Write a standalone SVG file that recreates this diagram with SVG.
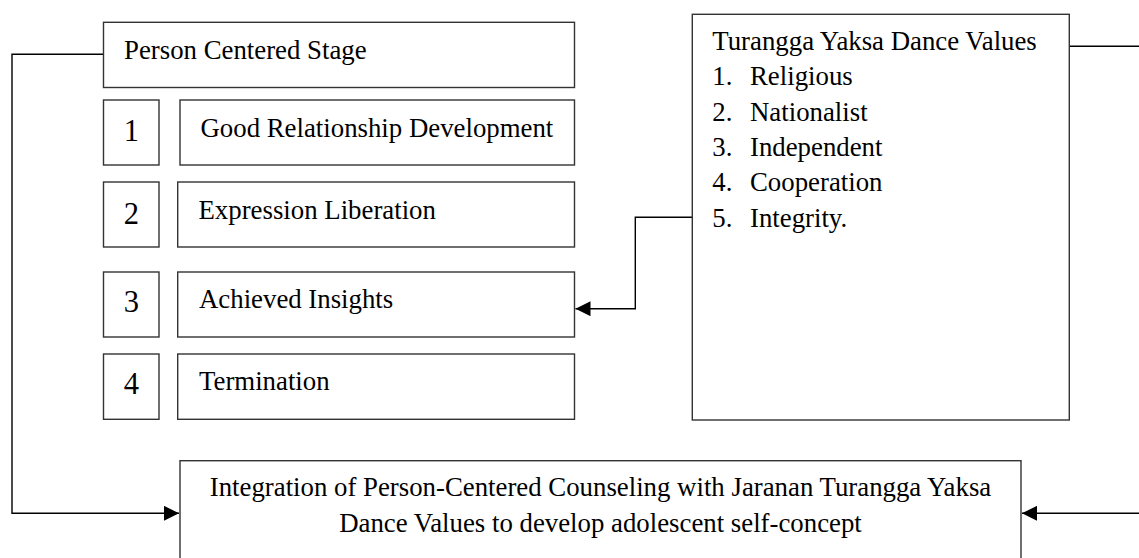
<svg xmlns="http://www.w3.org/2000/svg" width="1139" height="558" viewBox="0 0 1139 558">
  <style>
    .box { fill: #ffffff; stroke: #333333; stroke-width: 1.4; }
    .wire { fill: none; stroke: #000000; stroke-width: 1.4; }
    text { font-family: "Liberation Serif", "Times New Roman", serif; fill: #000000; }
    .lbl { font-size: 26.8px; }
    .num { font-size: 30.5px; text-anchor: middle; }
    .mid { text-anchor: middle; }
  </style>
  <defs>
    <marker id="arrow" markerUnits="userSpaceOnUse" markerWidth="16" markerHeight="15" refX="15" refY="7.5" orient="auto">
      <path d="M0,0 L15,7.5 L0,15 z" fill="#000000"/>
    </marker>
  </defs>

  <rect width="1139" height="558" fill="#ffffff"/>

  <!-- connectors -->
  <g id="connectors">
    <polyline class="wire" points="103.5,54.3 12,54.3 12,513.3 179,513.3" marker-end="url(#arrow)"/>
    <polyline class="wire" points="692.3,217.3 635.3,217.3 635.3,308.7 575.5,308.7" marker-end="url(#arrow)"/>
    <line class="wire" x1="1069.3" y1="46.3" x2="1139" y2="46.3"/>
    <line class="wire" x1="1139" y1="513.3" x2="1022" y2="513.3" marker-end="url(#arrow)"/>
  </g>

  <!-- left column: stages -->
  <g id="person-centered-stage">
    <rect class="box" x="103.5" y="22.3" width="471" height="65.2"/>
    <text class="lbl" x="124" y="58.5">Person Centered Stage</text>
  </g>

  <g id="stage-1-number">
    <rect class="box" x="103.5" y="100" width="55.5" height="65"/>
    <text class="num" x="131.25" y="141">1</text>
  </g>
  <g id="stage-1">
    <rect class="box" x="180" y="100" width="394.5" height="65"/>
    <text class="lbl" x="200.5" y="136.5">Good Relationship Development</text>
  </g>

  <g id="stage-2-number">
    <rect class="box" x="103.5" y="182" width="55.5" height="65"/>
    <text class="num" x="131.25" y="223.5">2</text>
  </g>
  <g id="stage-2">
    <rect class="box" x="177.7" y="182" width="396.8" height="65"/>
    <text class="lbl" x="198.5" y="218.5">Expression Liberation</text>
  </g>

  <g id="stage-3-number">
    <rect class="box" x="103.5" y="272" width="55.5" height="65"/>
    <text class="num" x="131.25" y="312.3">3</text>
  </g>
  <g id="stage-3">
    <rect class="box" x="177.7" y="272" width="396.8" height="65"/>
    <text class="lbl" x="199" y="308.3">Achieved Insights</text>
  </g>

  <g id="stage-4-number">
    <rect class="box" x="103.5" y="354" width="55.5" height="65.3"/>
    <text class="num" x="131.25" y="394">4</text>
  </g>
  <g id="stage-4">
    <rect class="box" x="177.7" y="354" width="396.8" height="65.3"/>
    <text class="lbl" x="199" y="390">Termination</text>
  </g>

  <!-- right column: dance values -->
  <g id="dance-values">
    <rect class="box" x="692.3" y="14.3" width="377" height="405.7"/>
    <text class="lbl" x="712.3" y="50">Turangga Yaksa Dance Values</text>
    <text class="lbl" x="712.3" y="85.3">1.</text>
    <text class="lbl" x="750" y="85.3">Religious</text>
    <text class="lbl" x="712.3" y="120.6">2.</text>
    <text class="lbl" x="750" y="120.6">Nationalist</text>
    <text class="lbl" x="712.3" y="155.9">3.</text>
    <text class="lbl" x="750" y="155.9">Independent</text>
    <text class="lbl" x="712.3" y="191.2">4.</text>
    <text class="lbl" x="750" y="191.2">Cooperation</text>
    <text class="lbl" x="712.3" y="226.5">5.</text>
    <text class="lbl" x="750" y="226.5">Integrity.</text>
  </g>

  <!-- bottom: integration outcome -->
  <g id="integration">
    <rect class="box" x="180" y="460.7" width="841" height="120"/>
    <text class="lbl mid" x="600.5" y="495.7">Integration of Person-Centered Counseling with Jaranan Turangga Yaksa</text>
    <text class="lbl mid" x="600.5" y="531.7">Dance Values to develop adolescent self-concept</text>
  </g>
</svg>
